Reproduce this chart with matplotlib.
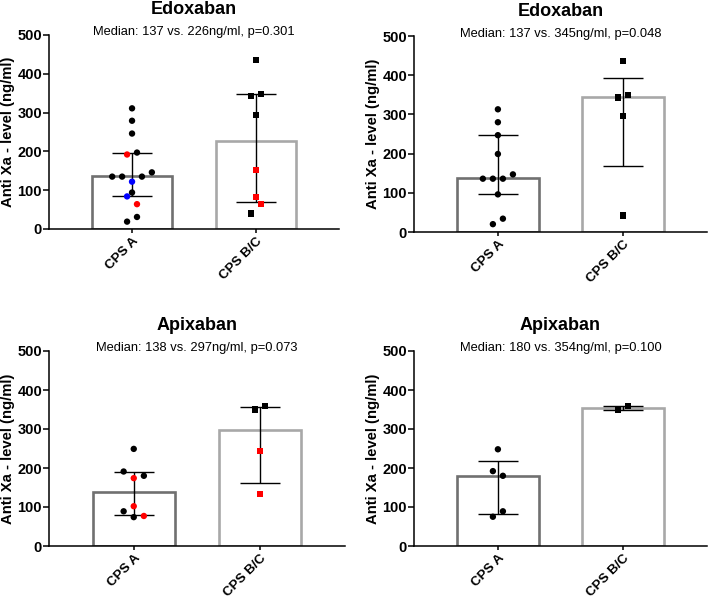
import numpy as np
import matplotlib
matplotlib.use('Agg')
import matplotlib.pyplot as plt

plt.rcParams['font.family'] = ['Liberation Sans', 'DejaVu Sans']

categories = ['CPS A', 'CPS B/C']

# --- panel data ---
# top-left: Edoxaban
edo1_a = [311, 279, 246, 192, 197, 135, 135, 122, 135, 146, 84, 94, 64, 19, 31]
edo1_a_grp = ['k', 'k', 'k', 'r', 'k', 'k', 'k', 'b', 'k', 'k', 'b', 'k', 'r', 'k', 'k']
edo1_b = [436, 342, 348, 294, 153, 83, 64, 40]
edo1_b_grp = ['k', 'k', 'k', 'k', 'r', 'r', 'r', 'k']
edo1_median = [137, 226]
edo1_err_lo = [85, 69]
edo1_err_hi = [197, 347]

# top-right: Edoxaban
edo2_a = [313, 280, 247, 199, 136, 136, 136, 147, 96, 20, 34]
edo2_a_grp = ['k'] * 11
edo2_b = [436, 343, 349, 295, 42]
edo2_b_grp = ['k'] * 5
edo2_median = [137, 345]
edo2_err_lo = [97, 169]
edo2_err_hi = [247, 394]

# bottom-left: Apixaban
api1_a = [249, 191, 180, 174, 102, 89, 74, 77]
api1_a_grp = ['k', 'k', 'k', 'r', 'r', 'k', 'k', 'r']
api1_b = [350, 359, 244, 134]
api1_b_grp = ['k', 'k', 'r', 'r']
api1_median = [138, 297]
api1_err_lo = [79, 162]
api1_err_hi = [189, 357]

# bottom-right: Apixaban
api2_a = [248, 192, 180, 89, 75]
api2_a_grp = ['k'] * 5
api2_b = [350, 359]
api2_b_grp = ['k', 'k']
api2_median = [180, 354]
api2_err_lo = [82, 350]
api2_err_hi = [219, 359]

# horizontal jitter of the dots (in dot half-widths)
edo1_a_jit = [0, 0, 0, -1, 1, -4, -2, 0, 2, 4, -1, 0, 1, -1, 1]
edo1_b_jit = [0, -1, 1, 0, 0, 0, 1, -1]
edo2_a_jit = [0, 0, 0, 0, -3, -1, 1, 3, 0, -1, 1]
edo2_b_jit = [0, -1, 1, 0, 0]
api1_a_jit = [0, -2, 2, 0, 0, -2, 0, 2]
api1_b_jit = [-1, 1, 0, 0]
api2_a_jit = [0, -1, 1, 1, -1]
api2_b_jit = [-1, 1]

titles = ['Edoxaban', 'Edoxaban', 'Apixaban', 'Apixaban']
subtitles = ['Median: 137 vs. 226ng/ml, p=0.301',
             'Median: 137 vs. 345ng/ml, p=0.048',
             'Median: 138 vs. 297ng/ml, p=0.073',
             'Median: 180 vs. 354ng/ml, p=0.100']

GRP_COLORS = {'k': 'black', 'r': '#ff0000', 'b': '#0000ff'}
BAR_EDGE = ['#707070', '#a8a8a8']
JIT = 0.04

W, H = 709, 601
# axes boxes in pixels: left, top, right, bottom
boxes = [(49, 35, 339, 229),
         (414, 36, 707, 232),
         (49, 351, 345, 546),
         (414, 351, 707, 546)]

panels = [
    (edo1_a, edo1_a_grp, edo1_a_jit, edo1_b, edo1_b_grp, edo1_b_jit, edo1_median, edo1_err_lo, edo1_err_hi),
    (edo2_a, edo2_a_grp, edo2_a_jit, edo2_b, edo2_b_grp, edo2_b_jit, edo2_median, edo2_err_lo, edo2_err_hi),
    (api1_a, api1_a_grp, api1_a_jit, api1_b, api1_b_grp, api1_b_jit, api1_median, api1_err_lo, api1_err_hi),
    (api2_a, api2_a_grp, api2_a_jit, api2_b, api2_b_grp, api2_b_jit, api2_median, api2_err_lo, api2_err_hi),
]

fig = plt.figure(figsize=(W / 100, H / 100), dpi=100)

for i, (box, pdata) in enumerate(zip(boxes, panels)):
    l, t, r, b = box
    ax = fig.add_axes([l / W, 1 - b / H, (r - l) / W, (b - t) / H])
    a_vals, a_grp, a_jit, b_vals, b_grp, b_jit, med, elo, ehi = pdata
    x = np.arange(len(categories))

    # bars (open, grey outline)
    for k in range(2):
        ax.bar(x[k], med[k], width=0.65, facecolor='white', edgecolor=BAR_EDGE[k],
               linewidth=1.9, zorder=1)

    # interquartile error bars
    for k in range(2):
        ax.vlines(x[k], elo[k], ehi[k], color='black', lw=1.0, zorder=2)
        ax.hlines([elo[k], ehi[k]], x[k] - 0.16, x[k] + 0.16, color='black', lw=1.0, zorder=2)

    # points
    ax.scatter(x[0] + JIT * np.array(a_jit), a_vals, s=21, marker='o',
               c=[GRP_COLORS[g] for g in a_grp], linewidths=0, zorder=3)
    ax.scatter(x[1] + JIT * np.array(b_jit), b_vals, s=20, marker='s',
               c=[GRP_COLORS[g] for g in b_grp], linewidths=0, zorder=3)

    ax.set_xlim(-0.67, 1.67)
    ax.set_ylim(0, 500)
    ax.set_yticks([0, 100, 200, 300, 400, 500])
    ax.set_xticks(x)
    ax.set_xticklabels(categories, rotation=45, ha='right', rotation_mode='anchor',
                       fontsize=9.6, fontweight='bold')
    for lab in ax.get_yticklabels():
        lab.set_fontweight('bold')
        lab.set_fontsize(10.5)
    ax.tick_params(axis='y', direction='out', length=4, width=1.1, pad=1)
    ax.tick_params(axis='x', direction='out', length=3, width=1.1, pad=1.5)
    for s in ['top', 'right']:
        ax.spines[s].set_visible(False)
    for s in ['left', 'bottom']:
        ax.spines[s].set_linewidth(1.1)
    ax.set_ylabel('Anti Xa - level (ng/ml)', fontsize=10.7, fontweight='bold', labelpad=2)

    hpx = b - t
    ax.text(0.5, 1 + 25 / hpx, titles[i], transform=ax.transAxes, ha='center', va='center',
            fontsize=13, fontweight='bold')
    ax.text(0.5, 1 + 2.5 / hpx, subtitles[i], transform=ax.transAxes, ha='center', va='center',
            fontsize=9.3)

fig.savefig('out.png', dpi=100)
